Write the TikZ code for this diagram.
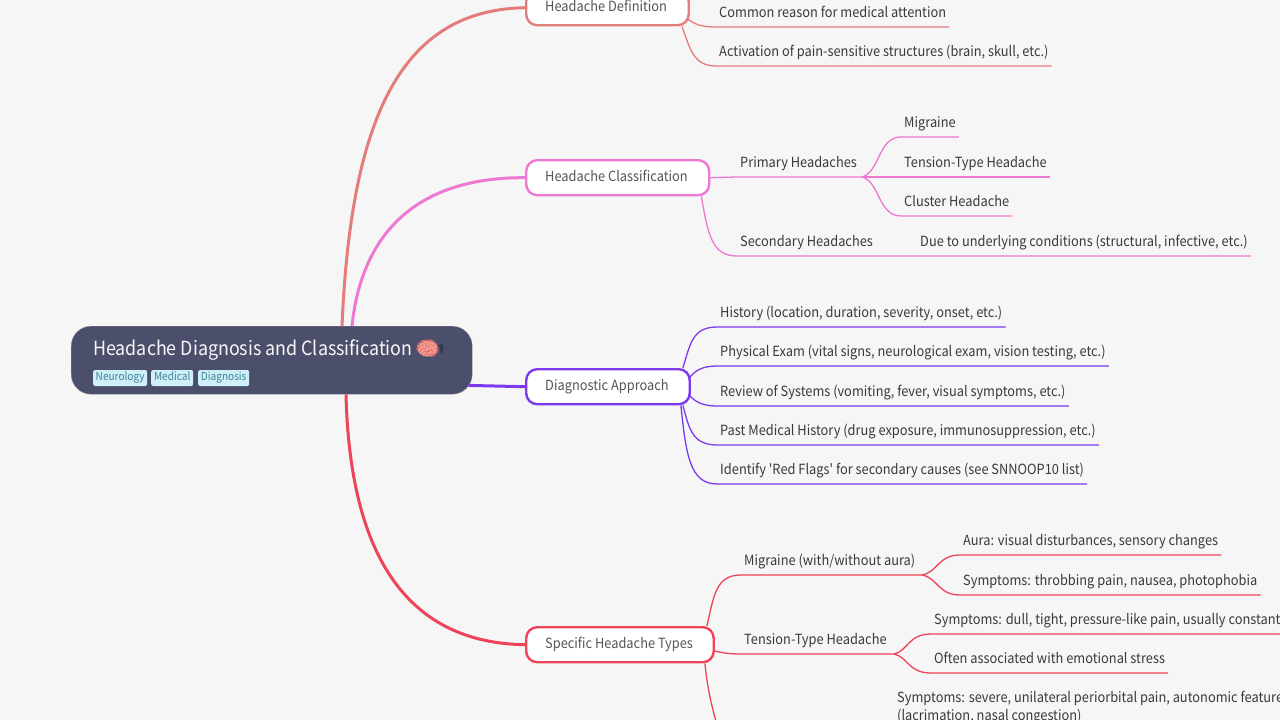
\documentclass[tikz,border=0pt]{standalone}
\usepackage{fontspec}
\setmainfont[FakeStretch=0.916,Ligatures=NoCommon]{Noto Sans CJK SC}
\newfontfamily\mainf[FakeStretch=0.916]{Noto Sans CJK SC}
\newfontfamily\emojifont{Noto Emoji}
\newfontfamily\symfont{DejaVu Sans}
\definecolor{bgc}{HTML}{F6F6F6}
\definecolor{rootc}{HTML}{4C4F6B}
\definecolor{tagf}{HTML}{CFF0F8}
\definecolor{tagt}{HTML}{3F8299}
\definecolor{cdef}{HTML}{E57C7C}
\definecolor{ccla}{HTML}{EE78D2}
\definecolor{cdia}{HTML}{7C3AED}
\definecolor{cspe}{HTML}{EE4459}
\definecolor{leaft}{HTML}{3A3A3A}
\definecolor{brt}{HTML}{555555}
\definecolor{brainf}{HTML}{F4A096}
\definecolor{brainl}{HTML}{DE716A}
\tikzset{
 x=1pt,y=-1pt,
 branch/.style={draw=#1,fill=white,line width=2.4pt,rounded corners=11pt,minimum height=35pt,inner xsep=19pt,inner ysep=0pt,anchor=north west,font=\mainf\fontsize{14}{16}\selectfont,text=brt,text height=11pt,text depth=4pt},
 leaf/.style={anchor=south west,inner xsep=3pt,inner ysep=6pt,text depth=3pt,text height=11pt,font=\mainf\fontsize{14}{16}\selectfont,text=leaft},
 tag/.style={fill=tagf,rounded corners=2pt,text=tagt,inner sep=0pt,minimum height=16pt,anchor=west,font=\mainf\fontsize{11}{13}\selectfont,text height=8pt,text depth=3pt},
 main/.style={line width=3pt,#1},
 sub/.style={line width=1.3pt,#1},
}
\begin{document}
\begin{tikzpicture}
\useasboundingbox[fill=bgc] (0,0) rectangle (1280,720);
% Root
\node[fill=rootc,draw=rootc!70!white,line width=.4pt,rounded corners=20pt,minimum width=401pt,minimum height=68pt,inner sep=0pt,anchor=north west] (root) at (71,326) {};
\node[anchor=west,inner sep=0pt,text=white!95!rootc,font=\mainf\fontsize{19.5}{24}\selectfont] (title) at (93,350) {Headache Diagnosis and Classification};
\node[anchor=west,inner sep=0pt,text=rootc!40!black,font=\symfont\fontsize{13}{16}\selectfont] (staff) at (438,349) {⚕};
\fill[brainf] (427.5,348.5) ellipse [x radius=10pt,y radius=8pt];
\node[anchor=center,inner sep=0pt,text=brainl,font=\emojifont\fontsize{20}{24}\selectfont] (brain) at (427.5,349) {🧠};
\node[tag,minimum width=54pt] (t1) at (93,378) {Neurology};
\node[tag,minimum width=42pt] (t2) at (151,378) {Medical};
\node[tag,minimum width=51pt] (t3) at (198,378) {Diagnosis};

% Branches
\node[branch=cdef] (def) at (525,-11) {\makebox[124.5pt][l]{Headache Definition}};
\node[branch=ccla] (cla) at (525,159) {\makebox[145pt][l]{Headache Classification}};
\node[branch=cdia] (dia) at (525,368) {\makebox[125.5pt][l]{Diagnostic Approach}};
\node[branch=cspe] (spe) at (525,626) {\makebox[149.5pt][l]{Specific Headache Types}};

% Leaves
\node[leaf] (d1) at (716,27) {Common reason for medical attention};
\node[leaf] (d2) at (716,66) {Activation of pain-sensitive structures (brain, skull, etc.)};

\node[leaf] (c1) at (737,177) {Primary Headaches};
\coordinate (j1) at (862,177);
\node[leaf] (c11) at (901,137) {Migraine};
\node[leaf] (c12) at (901,177) {Tension-Type Headache};
\node[leaf] (c13) at (901,216) {Cluster Headache};
\node[leaf] (c2) at (737,256) {Secondary Headaches};
\node[leaf] (c21) at (917,256) {Due to underlying conditions (structural, infective, etc.)};

\node[leaf] (a1) at (717,327) {History (location, duration, severity, onset, etc.)};
\node[leaf] (a2) at (717,366) {Physical Exam (vital signs, neurological exam, vision testing, etc.)};
\node[leaf] (a3) at (717,406) {Review of Systems (vomiting, fever, visual symptoms, etc.)};
\node[leaf] (a4) at (717,445) {Past Medical History (drug exposure, immunosuppression, etc.)};
\node[leaf] (a5) at (717,484) {Identify 'Red Flags' for secondary causes (see SNNOOP10 list)};

\node[leaf] (s1) at (741,575) {Migraine (with/without aura)};
\coordinate (j2) at (922,575);
\node[leaf] (s11) at (960,555) {Aura: visual disturbances, sensory changes};
\node[leaf] (s12) at (960,595) {Symptoms: throbbing pain, nausea, photophobia};
\node[leaf] (s2) at (741,654) {Tension-Type Headache};
\coordinate (j3) at (894,654);
\node[leaf] (s21) at (931,634) {Symptoms: dull, tight, pressure-like pain, usually constant};
\node[leaf] (s22) at (931,673) {Often associated with emotional stress};
\coordinate (s3) at (718,728);
\node[anchor=north west,inner sep=0pt,align=left,text=leaft,font=\mainf\fontsize{14}{18}\selectfont] (s31) at (897,690.5) {Symptoms: severe, unilateral periorbital pain, autonomic features\\(lacrimation, nasal congestion)};

% Root connectors
\draw[main=cdef] ([xshift=271pt]root.north west) .. controls (351,115) and (402,10) .. (def.west);
\draw[main=ccla] ([xshift=281pt]root.north west) .. controls (362,230) and (420,177) .. (cla.west);
\draw[main=cdia] ([xshift=-4pt,yshift=9pt]root.south east) -- (dia.west);
\draw[main=cspe] ([xshift=275pt]root.south west) .. controls (350,560) and (410,643) .. (spe.west);

% Definition
\draw[sub=cdef] ([xshift=-3pt,yshift=-11pt]def.east) .. controls (695,24) and (700,27) .. (d1.south west) -- (d1.south east);
\draw[sub=cdef] ([xshift=-8pt]def.south east) .. controls (690,48) and (693,66) .. (d2.south west) -- (d2.south east);

% Classification
\draw[sub=ccla] (cla.east) -- (c1.south west) -- (j1);
\draw[sub=ccla] (j1) .. controls (880,172) and (878,137) .. (c11.south west) -- (c11.south east);
\draw[sub=ccla] (j1) -- (c12.south west) -- (c12.south east);
\draw[sub=ccla] (j1) .. controls (880,182) and (878,216) .. (c13.south west) -- (c13.south east);
\draw[sub=ccla] ([xshift=-9pt]cla.south east) .. controls (708,235) and (712,256) .. (c2.south west) -- (c21.south east);

% Diagnostic
\draw[sub=cdia] ([xshift=-8pt]dia.north east) .. controls (690,345) and (692,327) .. (a1.south west) -- (a1.south east);
\draw[sub=cdia] ([xshift=-2pt,yshift=8pt]dia.east) .. controls (695,370) and (703,366) .. (a2.south west) -- (a2.south east);
\draw[sub=cdia] ([xshift=-2pt,yshift=-8pt]dia.east) .. controls (695,402) and (703,406) .. (a3.south west) -- (a3.south east);
\draw[sub=cdia] ([xshift=-8pt]dia.south east) .. controls (689,428) and (692,445) .. (a4.south west) -- (a4.south east);
\draw[sub=cdia] ([xshift=-10pt]dia.south east) .. controls (686,455) and (690,484) .. (a5.south west) -- (a5.south east);

% Specific
\draw[sub=cspe] ([xshift=-8pt]spe.north east) .. controls (714,595) and (716,575) .. (s1.south west) -- (j2);
\draw[sub=cspe] (j2) .. controls (938,572) and (938,555) .. (s11.south west) -- (s11.south east);
\draw[sub=cspe] (j2) .. controls (938,578) and (938,595) .. (s12.south west) -- (s12.south east);
\draw[sub=cspe] ([xshift=-1pt,yshift=-6pt]spe.east) .. controls (722,653) and (730,654) .. (s2.south west) -- (j3);
\draw[sub=cspe] (j3) .. controls (908,651) and (908,634) .. (s21.south west) -- (s21.south east);
\draw[sub=cspe] (j3) .. controls (908,657) and (908,673) .. (s22.south west) -- (s22.south east);
\draw[sub=cspe] ([xshift=-10pt]spe.south east) .. controls (707,685) and (711,705) .. (s3);
\end{tikzpicture}
\end{document}
